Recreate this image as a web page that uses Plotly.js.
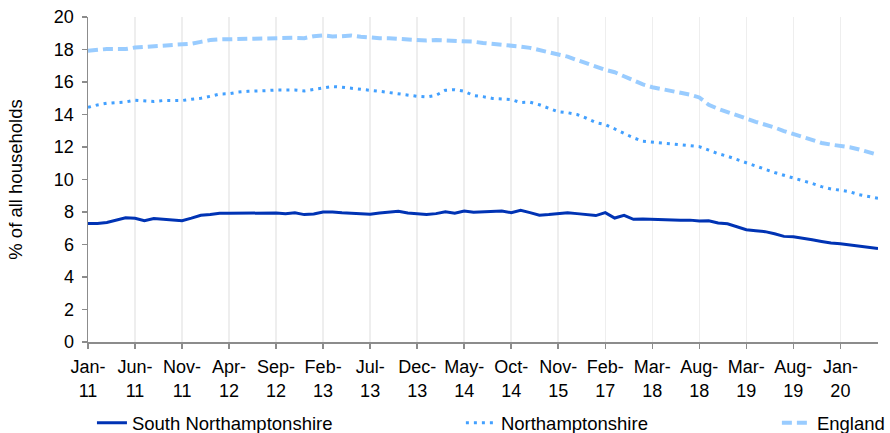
<!DOCTYPE html>
<html>
<head>
<meta charset="utf-8">
<script src="https://cdn.plot.ly/plotly-3.0.1.min.js"></script>
<style>html,body{margin:0;padding:0;background:#fff;}#chart{width:890px;height:433px;}</style>
</head>
<body>
<div id="chart"></div>
<script>
const categories = [
  "Jan-11","Feb-11","Mar-11","Apr-11","May-11","Jun-11","Jul-11","Aug-11","Sep-11","Oct-11","Nov-11","Dec-11",
  "Jan-12","Feb-12","Mar-12","Apr-12","May-12","Jun-12","Jul-12","Aug-12","Sep-12","Oct-12","Nov-12","Dec-12",
  "Jan-13","Feb-13","Mar-13","Apr-13","May-13","Jun-13","Jul-13","Aug-13","Sep-13","Oct-13","Nov-13","Dec-13",
  "Jan-14","Feb-14","Mar-14","Apr-14","May-14","Jun-14","Jul-14","Aug-14","Sep-14","Oct-14",
  "Jan-15","Apr-15","Jun-15","Sep-15","Nov-15",
  "Feb-16","May-16","Aug-16","Nov-16","Feb-17",
  "May-17","Aug-17","Nov-17","Feb-18","Mar-18",
  "Apr-18","May-18","Jun-18","Jul-18","Aug-18",
  "Sep-18","Oct-18","Nov-18","Jan-19","Mar-19",
  "Apr-19","May-19","Jun-19","Jul-19","Aug-19",
  "Sep-19","Oct-19","Nov-19","Dec-19","Jan-20",
  "Feb-20","Mar-20","Apr-20","May-20"
];

const southNorthamptonshire = [
  7.30,7.30,7.36,7.48,7.64,7.62,7.46,7.60,7.54,7.50,7.46,7.62,
  7.80,7.84,7.92,7.92,7.92,7.94,7.95,7.92,7.94,7.90,7.95,7.84,
  7.88,8.00,8.00,7.95,7.93,7.92,7.86,7.94,7.98,8.04,7.94,7.88,
  7.84,7.90,8.02,7.92,8.06,7.98,8.02,8.04,8.06,7.96,
  8.10,7.96,7.80,7.84,7.88,
  7.96,7.90,7.84,7.78,7.96,
  7.63,7.80,7.55,7.57,7.55,
  7.50,7.49,7.50,7.50,7.44,
  7.46,7.32,7.28,7.09,6.91,
  6.85,6.79,6.66,6.50,6.48,
  6.40,6.29,6.19,6.09,6.05,
  5.98,5.90,5.82,5.76
];

const northamptonshire = [
  14.44,14.59,14.69,14.73,14.77,14.88,14.82,14.80,14.86,14.86,14.86,14.94,
  15.00,15.12,15.26,15.28,15.38,15.43,15.43,15.47,15.51,15.51,15.51,15.45,
  15.53,15.63,15.72,15.68,15.63,15.55,15.49,15.43,15.35,15.26,15.16,15.12,
  15.08,15.18,15.49,15.53,15.43,15.17,15.10,14.99,14.96,14.92,
  14.74,14.76,14.60,14.40,14.17,
  14.11,14.00,13.77,13.50,13.38,
  13.10,12.83,12.57,12.35,12.32,
  12.25,12.20,12.14,12.11,12.02,
  11.81,11.59,11.43,11.23,11.01,
  10.80,10.63,10.43,10.26,10.10,
  9.94,9.76,9.56,9.42,9.34,
  9.25,9.06,8.95,8.85
];

const england = [
  17.92,17.98,18.03,18.03,18.03,18.12,18.15,18.18,18.23,18.26,18.30,18.36,
  18.47,18.58,18.62,18.63,18.68,18.70,18.70,18.72,18.72,18.72,18.72,18.70,
  18.82,18.87,18.80,18.82,18.86,18.78,18.72,18.70,18.69,18.66,18.57,18.56,
  18.55,18.58,18.56,18.52,18.52,18.48,18.40,18.35,18.31,18.28,
  18.18,18.10,17.98,17.80,17.68,
  17.56,17.35,17.15,16.90,16.75,
  16.60,16.35,16.10,15.85,15.68,
  15.58,15.46,15.34,15.22,15.05,
  14.60,14.35,14.17,13.98,13.75,
  13.55,13.40,13.20,12.98,12.80,
  12.60,12.45,12.25,12.15,12.08,
  11.98,11.85,11.68,11.52
];

const tickCategories = ["Jan-11","Jun-11","Nov-11","Apr-12","Sep-12","Feb-13","Jul-13","Dec-13","May-14","Oct-14","Nov-15","Feb-17","Mar-18","Aug-18","Mar-19","Aug-19","Jan-20"];
const tickLabels = ["Jan-<br>11","Jun-<br>11","Nov-<br>11","Apr-<br>12","Sep-<br>12","Feb-<br>13","Jul-<br>13","Dec-<br>13","May-<br>14","Oct-<br>14","Nov-<br>15","Feb-<br>17","Mar-<br>18","Aug-<br>18","Mar-<br>19","Aug-<br>19","Jan-<br>20"];

const FONT = "Liberation Sans, Arial, sans-serif";

const traces = [
  {x: categories, y: southNorthamptonshire, name: "South Northamptonshire", type: "scatter", mode: "lines",
   line: {color: "#0033b4", width: 3}, legend: "legend"},
  {x: categories, y: northamptonshire, name: "Northamptonshire", type: "scatter", mode: "lines",
   line: {color: "#42a0ff", width: 3, dash: "3px,5px"}, legend: "legend2"},
  {x: categories, y: england, name: "England", type: "scatter", mode: "lines",
   line: {color: "#99ccff", width: 4, dash: "10px,5px"}, legend: "legend3"}
];

const legendBase = {orientation: "h", y: -0.25, yanchor: "middle", xanchor: "left",
  font: {family: FONT, size: 18.5, color: "#000"}, bgcolor: "rgba(0,0,0,0)", borderwidth: 0};

const layout = {
  width: 890, height: 433,
  margin: {l: 88, r: 12, t: 17, b: 91, autoexpand: false},
  paper_bgcolor: "#fff", plot_bgcolor: "#fff",
  font: {family: FONT, size: 18, color: "#000"},
  showlegend: true,
  legend: Object.assign({}, legendBase, {x: 0.005}),
  legend2: Object.assign({}, legendBase, {x: 0.472}),
  legend3: Object.assign({}, legendBase, {x: 0.872}),
  xaxis: {
    type: "category", range: [0, categories.length - 1],
    tickmode: "array", tickvals: tickCategories, ticktext: tickLabels,
    showgrid: true, gridcolor: "#eeeeee", gridwidth: 1.5,
    showline: true, linecolor: "#8c8c8c", linewidth: 1.5,
    ticks: "outside", ticklen: 5, tickcolor: "#8c8c8c", tickwidth: 1.5,
    tickangle: 0, tickfont: {family: FONT, size: 18, color: "#000"},
    ticklabelstandoff: 3,
    zeroline: false, fixedrange: true
  },
  yaxis: {
    range: [0, 20], dtick: 2, tick0: 0,
    showgrid: false, zeroline: false,
    showline: true, linecolor: "#8c8c8c", linewidth: 1.5,
    ticks: "outside", ticklen: 5, tickcolor: "#8c8c8c", tickwidth: 1.5,
    tickfont: {family: FONT, size: 18, color: "#000"},
    ticklabelstandoff: 4,
    title: {text: "% of all households", font: {family: FONT, size: 18.5, color: "#000"}, standoff: 26},
    fixedrange: true
  }
};

Plotly.newPlot("chart", traces, layout, {displayModeBar: false, staticPlot: true});
</script>
</body>
</html>
